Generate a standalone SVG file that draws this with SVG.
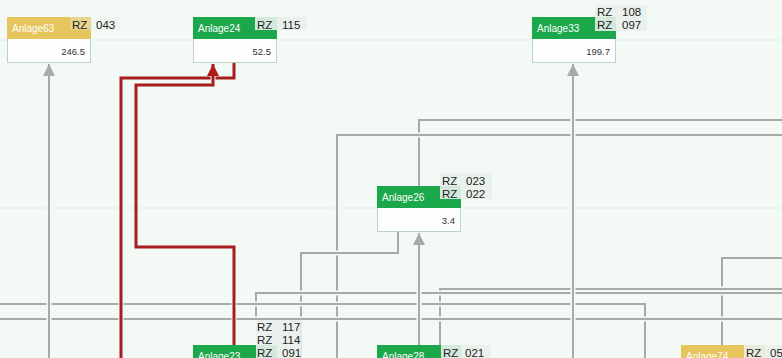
<svg xmlns="http://www.w3.org/2000/svg" width="782" height="358" viewBox="0 0 782 358">
<style>
.hd{font-family:"Liberation Sans",Arial,sans-serif;font-size:10px;fill:#ffffff}
.val{font-family:"Liberation Sans",Arial,sans-serif;font-size:9.5px;fill:#333333;text-anchor:end}
.lb{font-family:"Liberation Sans",Arial,sans-serif;font-size:11.5px;fill:#222222}
.lbox{fill:#e9efeb;opacity:0.9}
.body{fill:#fdfefd;stroke:#bcd3c2;stroke-width:1}
.g{fill:#1aa84b}
.y{fill:#e6c65c}
.halo{fill:none;stroke:#f3faf5;stroke-width:5}
.c{fill:none;stroke:#a7aba7;stroke-width:2}
.r{fill:none;stroke:#a81d1d;stroke-width:3}
.lane{stroke:#e0eae2;stroke-width:1}
</style>
<defs>
<marker id="ag" markerUnits="userSpaceOnUse" markerWidth="14" markerHeight="14" refX="12" refY="6" orient="auto">
<path d="M0,0 L12,6 L0,12 z" fill="#a7aba7"/>
</marker>
<marker id="ar" markerUnits="userSpaceOnUse" markerWidth="14" markerHeight="14" refX="12" refY="6" orient="auto">
<path d="M0,0 L12,6 L0,12 z" fill="#b01c1c"/>
</marker>
</defs>
<rect x="0" y="0" width="782" height="358" fill="#f3faf5"/>
<line class="lane" x1="0" y1="40" x2="782" y2="40"/>
<line class="lane" x1="0" y1="208" x2="782" y2="208"/>
<g id="connectors">
<path class="halo" d="M419,186 V120 H790"/><path class="c" d="M419,186 V120 H790"/>
<path class="halo" d="M337,360 V135 H790"/><path class="c" d="M337,360 V135 H790"/>
<path class="halo" d="M398,232 V253 H301 V360"/><path class="c" d="M398,232 V253 H301 V360"/>
<path class="halo" d="M722,345 V258 H790"/><path class="c" d="M722,345 V258 H790"/>
<path class="halo" d="M440,345 V289 H790"/><path class="c" d="M440,345 V289 H790"/>
<path class="halo" d="M256,321 V293 H790"/><path class="c" d="M256,321 V293 H790"/>
<path class="halo" d="M-5,304 H645 V360"/><path class="c" d="M-5,304 H645 V360"/>
<path class="halo" d="M-5,319 H790"/><path class="c" d="M-5,319 H790"/>
<path class="halo" d="M49,360 V64"/><path class="c" d="M49,360 V64" marker-end="url(#ag)"/>
<path class="halo" d="M573,360 V64"/><path class="c" d="M573,360 V64" marker-end="url(#ag)"/>
<path class="halo" d="M419,345 V233"/><path class="c" d="M419,345 V233" marker-end="url(#ag)"/>
<path class="halo" d="M234,63 V78 H121 V360"/><path class="r" d="M234,63 V78 H121 V360"/>
<path class="halo" d="M234,345 V247 H136 V85 H213 V64"/><path class="r" d="M234,345 V247 H136 V85 H213 V64" marker-end="url(#ar)"/>
</g>
<g id="Anlage63">
<rect class="body" x="7.5" y="17.5" width="83" height="45"/>
<rect class="y" x="7" y="17" width="84" height="22"/>
<text class="hd" x="12" y="32">Anlage63</text>
<text class="val" x="85" y="55">246.5</text>
<rect class="lbox" x="70" y="17" width="50" height="13" style="opacity:0.35"/>
<text class="lb" x="72" y="29">RZ</text><text class="lb" x="96" y="29">043</text>
</g>
<g id="Anlage24">
<rect class="body" x="193.5" y="17.5" width="83" height="45"/>
<rect class="g" x="193" y="17" width="84" height="22"/>
<text class="hd" x="198" y="32">Anlage24</text>
<text class="val" x="271" y="55">52.5</text>
<rect class="lbox" x="255" y="17" width="52" height="13"/>
<text class="lb" x="257" y="29">RZ</text><text class="lb" x="282" y="29">115</text>
</g>
<g id="Anlage33">
<rect class="body" x="532.5" y="17.5" width="83" height="45"/>
<rect class="g" x="532" y="17" width="84" height="22"/>
<text class="hd" x="537" y="32">Anlage33</text>
<text class="val" x="610" y="55">199.7</text>
<rect class="lbox" x="595" y="5" width="52" height="26"/>
<text class="lb" x="597" y="16">RZ</text><text class="lb" x="622" y="16">108</text>
<text class="lb" x="597" y="29">RZ</text><text class="lb" x="622" y="29">097</text>
</g>
<g id="Anlage26">
<rect class="body" x="377.5" y="186.5" width="83" height="45"/>
<rect class="g" x="377" y="186" width="84" height="22"/>
<text class="hd" x="382" y="201">Anlage26</text>
<text class="val" x="455" y="224">3.4</text>
<rect class="lbox" x="440" y="173" width="52" height="26"/>
<text class="lb" x="442" y="185">RZ</text><text class="lb" x="466" y="185">023</text>
<text class="lb" x="442" y="198">RZ</text><text class="lb" x="466" y="198">022</text>
</g>
<g id="Anlage23">
<rect class="body" x="193.5" y="345.5" width="83" height="45"/>
<rect class="g" x="193" y="345" width="84" height="22"/>
<text class="hd" x="198" y="360">Anlage23</text>
<rect class="lbox" x="256" y="320" width="46" height="40"/>
<text class="lb" x="257" y="331">RZ</text><text class="lb" x="282" y="331">117</text>
<text class="lb" x="257" y="344">RZ</text><text class="lb" x="282" y="344">114</text>
<text class="lb" x="257" y="357">RZ</text><text class="lb" x="282" y="357">091</text>
</g>
<g id="Anlage28">
<rect class="body" x="377.5" y="345.5" width="83" height="45"/>
<rect class="g" x="377" y="345" width="84" height="22"/>
<text class="hd" x="382" y="360">Anlage28</text>
<rect class="lbox" x="441" y="345" width="50" height="13"/>
<text class="lb" x="443" y="357">RZ</text><text class="lb" x="465" y="357">021</text>
</g>
<g id="Anlage74">
<rect class="body" x="681.5" y="345.5" width="83" height="45"/>
<rect class="y" x="681" y="345" width="84" height="22"/>
<text class="hd" x="686" y="360">Anlage74</text>
<rect class="lbox" x="744" y="345" width="50" height="13"/>
<text class="lb" x="746" y="357">RZ</text><text class="lb" x="770" y="357">05</text>
</g>
</svg>
